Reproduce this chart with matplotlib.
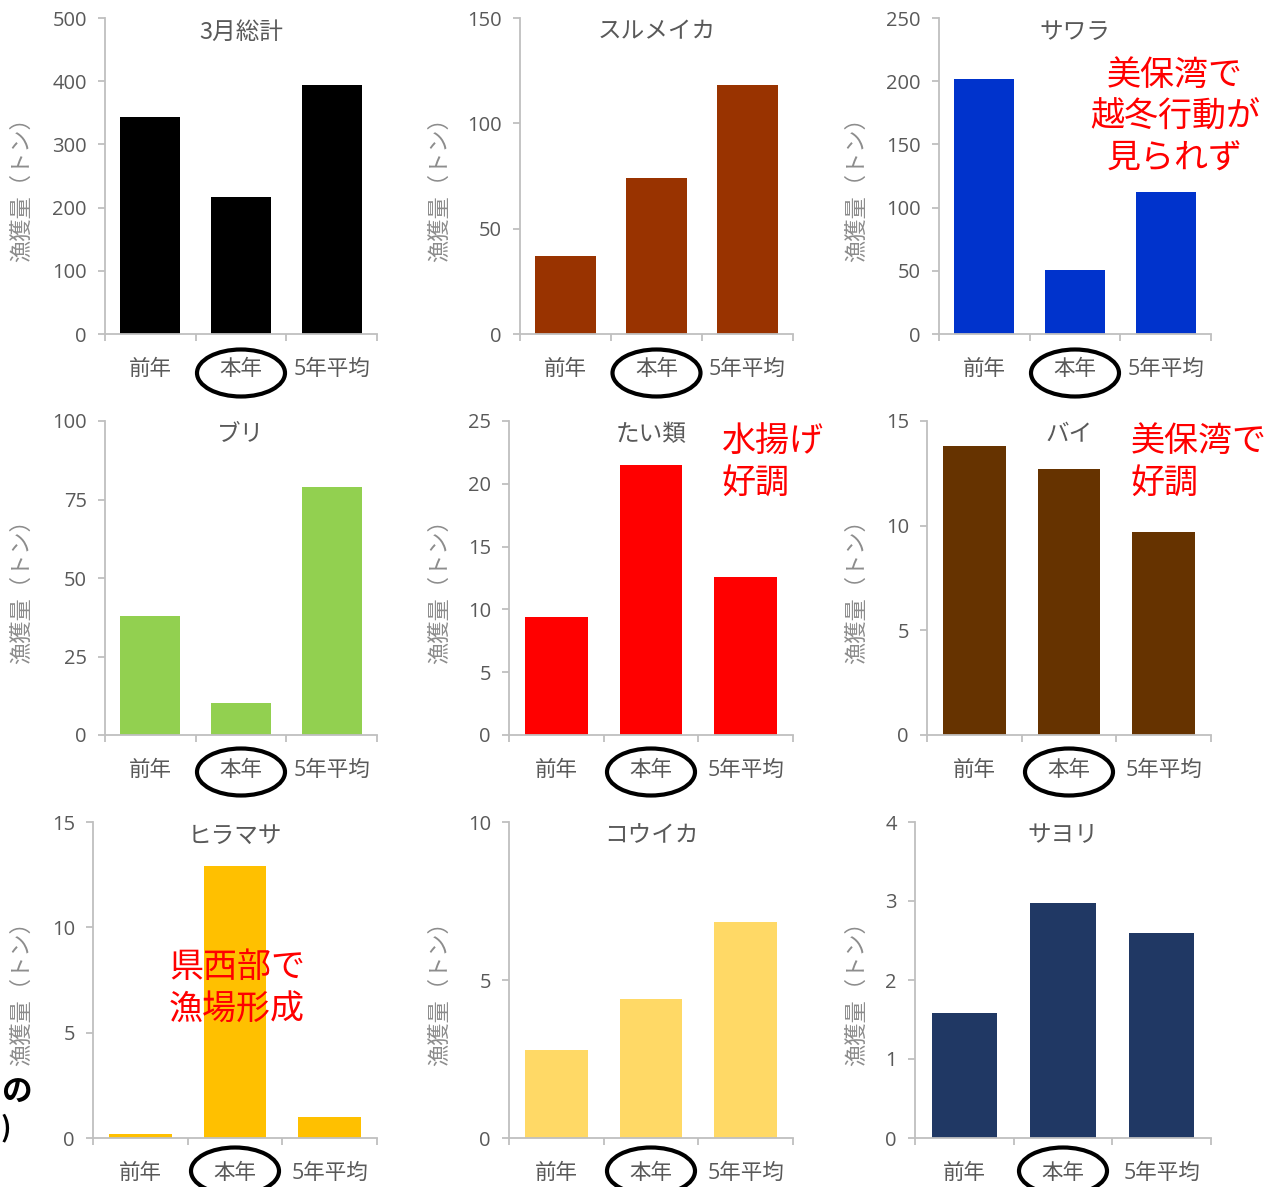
import matplotlib
matplotlib.use('Agg')
import matplotlib.pyplot as plt
from matplotlib.patches import Ellipse

plt.rcParams['font.family'] = ['Noto Sans CJK JP', 'DejaVu Sans']

# ---- data ----
categories = ['前年', '本年', '5年平均']
titles = ['3月総計', 'スルメイカ', 'サワラ', 'ブリ', 'たい類', 'バイ', 'ヒラマサ', 'コウイカ', 'サヨリ']
total_march = [343, 217, 394]
surumeika = [37, 74, 118]
sawara = [202, 51, 112]
buri = [38, 10.3, 79]
tai = [9.4, 21.5, 12.6]
bai = [13.8, 12.7, 9.7]
hiramasa = [0.2, 12.9, 1.0]
kouika = [2.8, 4.4, 6.85]
sayori = [1.58, 2.97, 2.6]
series = [total_march, surumeika, sawara, buri, tai, bai, hiramasa, kouika, sayori]
ymax = [500, 150, 250, 100, 25, 15, 15, 10, 4]
ystep = [100, 50, 50, 25, 5, 5, 5, 5, 1]
colors = ['#000000', '#993300', '#0033CC', '#92D050', '#FF0000', '#663300',
          '#FFC000', '#FFD966', '#203864']
ylabel = '漁獲量（トン）'
notes = {2: '美保湾で\n越冬行動が\n見られず', 4: '水揚げ\n好調', 5: '美保湾で\n好調', 6: '県西部で\n漁場形成'}

# ---- layout (pixel boxes) ----
W, H = 1277, 1187
boxes = [(105, 377, 18, 334), (520, 793, 18, 334), (939, 1211, 18, 334),
         (105, 377, 421, 735), (509, 793, 421, 735), (927, 1211, 421, 735),
         (93, 377, 822, 1138), (509, 793, 822, 1138), (915, 1211, 822, 1138)]
ylab_x = [22, 440, 857]
ylab_y = [184, 586, 988]
ell_off = [39, 37, 33]

fig = plt.figure(figsize=(W / 100, H / 100), dpi=100)
spine_c = '#BFBFBF'
tick_c = '#595959'
num_font = ['Open Sans', 'Noto Sans CJK JP']

for i, (x0, x1, yt, yb) in enumerate(boxes):
    ax = fig.add_axes([x0 / W, 1 - yb / H, (x1 - x0) / W, (yb - yt) / H])
    ax.bar(range(3), series[i], width=0.66, color=colors[i])
    ax.set_xlim(-0.5, 2.5)
    ax.set_ylim(0, ymax[i])
    ax.set_yticks([ystep[i] * k for k in range(int(round(ymax[i] / ystep[i])) + 1)])
    ax.set_xticks(range(3))
    ax.set_xticklabels(categories)
    ax.set_xticks([-0.5, 0.5, 1.5, 2.5], minor=True)
    for s in ['top', 'right']:
        ax.spines[s].set_visible(False)
    for s in ['left', 'bottom']:
        ax.spines[s].set_color(spine_c)
        ax.spines[s].set_linewidth(1.3)
    ax.tick_params(axis='x', which='major', length=0, pad=18, labelsize=15.5, labelcolor=tick_c)
    ax.tick_params(axis='x', which='minor', length=5, width=1.3, color=spine_c, direction='out')
    ax.tick_params(axis='y', length=5, width=1.3, color=spine_c, pad=8, labelsize=14.5, labelcolor=tick_c)
    for lab in ax.get_xticklabels() + ax.get_yticklabels():
        lab.set_family(num_font)
    ax.text(0.5, 1 - 14 / (yb - yt), titles[i], transform=ax.transAxes, ha='center', va='center',
            fontsize=17, color=tick_c)
    row, col = divmod(i, 3)
    fig.text(ylab_x[col] / W, 1 - ylab_y[row] / H, ylabel, rotation=90, ha='center', va='center',
             fontsize=16, color='#8C8C8C')
    cx = x0 + (x1 - x0) * 0.5
    cy = yb + ell_off[row]
    e = Ellipse((cx / W, 1 - cy / H), 88 / W, 47 / H, transform=fig.transFigure,
                fill=False, edgecolor='black', linewidth=3)
    fig.add_artist(e)

red = '#FF0000'
ls = 1.25
fig.text(1175 / W, 1 - 117 / H, notes[2], ha='center', va='center', fontsize=24.5, color=red, linespacing=ls)
fig.text(722 / W, 1 - 462 / H, notes[4], ha='left', va='center', fontsize=24.5, color=red, linespacing=ls)
fig.text(1131 / W, 1 - 462 / H, notes[5], ha='left', va='center', fontsize=24.5, color=red, linespacing=ls)
fig.text(237 / W, 1 - 988 / H, notes[6], ha='center', va='center', fontsize=24.5, color=red, linespacing=ls)

# stray cropped text at left edge
fig.text(16 / W, 1 - 1093 / H, 'の', ha='center', va='center', fontsize=22, fontweight='bold', color='black')
fig.text(1 / W, 1 - 1128 / H, ')', ha='left', va='center', fontsize=20, fontweight='bold', color='black')

fig.savefig('out.png', dpi=100)
